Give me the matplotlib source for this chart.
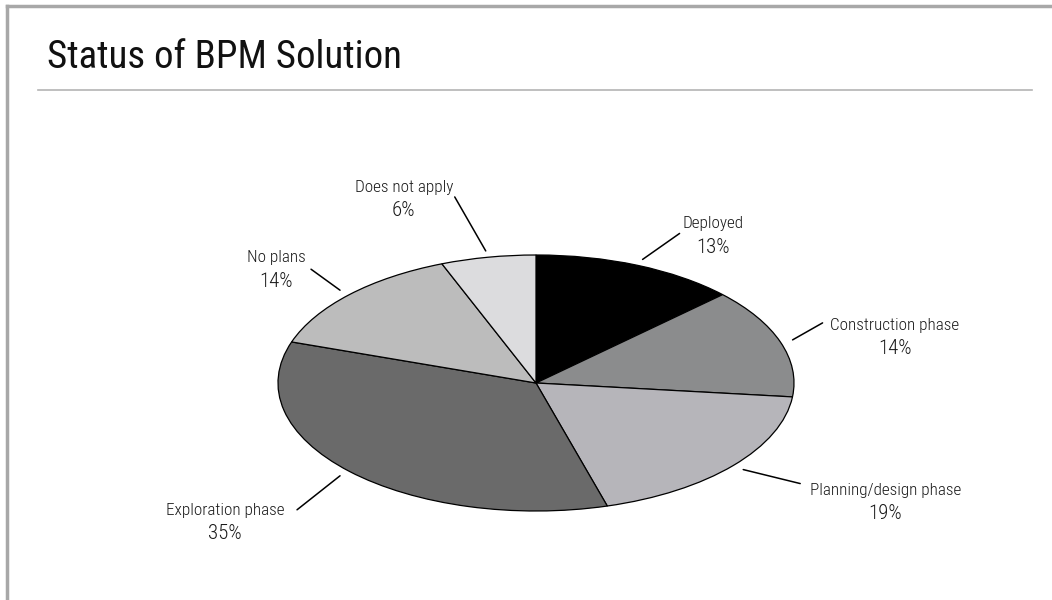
import numpy as np
import matplotlib
matplotlib.use("Agg")
import matplotlib.pyplot as plt
from matplotlib.lines import Line2D

plt.rcParams['font.family'] = ['Roboto Condensed', 'DejaVu Sans']

# data
categories = ["Deployed", "Construction phase", "Planning/design phase",
              "Exploration phase", "No plans", "Does not apply"]
shares = [13, 14, 19, 35, 14, 6]
colors = ["#000000", "#8b8c8d", "#b6b5ba", "#6a6a6a", "#bcbcbc", "#dcdcde"]

# label placement (pixel offsets from the slice edge, y up)
line_offsets = [(37, 26), (30, 17), (57, -14), (-43, -34), (-29, 21), (-31, 54)]
name_offsets = [(70, 31), (102, 10), (142, -25), (-115, -39), (-64, 28), (-82, 59)]
pct_gap = 24.5

W, H = 1052, 600
fig = plt.figure(figsize=(W / 100, H / 100), dpi=100)

# pie squashed into an ellipse: centre (536, 383), radii 258 x 128 px
cx, cy, rx, ry = 536, 383, 258, 128
ax = fig.add_axes([(cx - rx) / W, (H - cy - ry) / H, 2 * rx / W, 2 * ry / H])
wedges, _ = ax.pie(shares, colors=colors, startangle=90, counterclock=False,
                   wedgeprops=dict(edgecolor="black", linewidth=0.9))
ax.set_aspect("auto")
ax.set_xlim(-1, 1)
ax.set_ylim(-1, 1)
ax.axis("off")

for w, name, val, lo, no in zip(wedges, categories, shares, line_offsets, name_offsets):
    mid = np.deg2rad((w.theta1 + w.theta2) / 2)
    edge = (1.05 * np.cos(mid), 1.05 * np.sin(mid))
    ax.annotate("", xy=edge, xytext=lo, textcoords="offset pixels",
                arrowprops=dict(arrowstyle="-", lw=1.1, color="black",
                                shrinkA=0, shrinkB=0),
                annotation_clip=False)
    ax.annotate(name, xy=edge, xytext=no, textcoords="offset pixels",
                ha="center", va="baseline", fontsize=12.3, fontweight="light",
                color="#1a1a1a", annotation_clip=False)
    ax.annotate(f"{val}%", xy=edge, xytext=(no[0], no[1] - pct_gap),
                textcoords="offset pixels", ha="center", va="baseline",
                fontsize=15, fontweight="light", color="#1a1a1a",
                annotation_clip=False)

# title, rule and frame
fig.text(47 / W, 1 - 57 / H, "Status of BPM Solution", fontsize=28,
         color="#111111", va="center", ha="left")
fig.add_artist(Line2D([38 / W, 1032 / W], [1 - 90 / H, 1 - 90 / H],
                      color="#b4b4b4", lw=1.2))
fig.add_artist(Line2D([7 / W, 1], [1 - 6 / H, 1 - 6 / H], color="#a8a8a8", lw=2.5))
fig.add_artist(Line2D([7 / W, 7 / W], [0, 1 - 6 / H], color="#a8a8a8", lw=2.5))

fig.savefig("out.png", dpi=100, facecolor="white")
